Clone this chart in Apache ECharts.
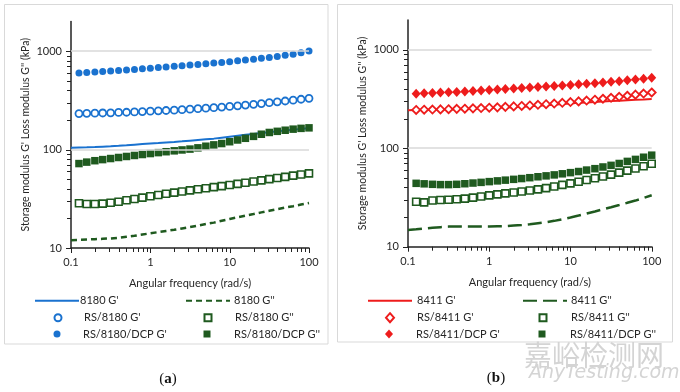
<!DOCTYPE html>
<html>
<head>
<meta charset="utf-8">
<script src="https://cdn.jsdelivr.net/npm/echarts@6/dist/echarts.min.js"></script>
<style>
html,body{margin:0;padding:0;background:#fff;}
#c{width:680px;height:392px;}
</style>
</head>
<body>
<div id="c"></div>
<script>
// ---------- data ----------
const freqLine = [0.1,0.126,0.158,0.2,0.251,0.316,0.398,0.501,0.631,0.794,1,1.26,1.58,2,2.51,3.16,3.98,5.01,6.31,7.94,10,12.6,15.8,20,25.1,31.6,39.8,50.1,63.1,79.4,100];
const freqPts = [0.126,0.158,0.2,0.251,0.316,0.398,0.501,0.631,0.794,1,1.26,1.58,2,2.51,3.16,3.98,5.01,6.31,7.94,10,12.6,15.8,20,25.1,31.6,39.8,50.1,63.1,79.4,100];
const xRange = [0.1, 100];
const yRange = [10, 2000];
const xMajorTicks = [0.1,1,10,100];
const xMinorTicks = [0.2,0.3,0.4,0.5,0.6,0.7,0.8,0.9,2,3,4,5,6,7,8,9,20,30,40,50,60,70,80,90];
const yMajorTicks = [10,100,1000];
const yMinorTicks = [20,30,40,50,60,70,80,90,200,300,400,500,600,700,800,900];
const gridValues = [100,1000];

// panel (a)
const namesA = ["8180 G'", "8180 G''", "RS/8180 G'", "RS/8180 G''", "RS/8180/DCP G'", "RS/8180/DCP G''"];
const a8180Gp = [104,104.6,105.2,106,107,108,109.2,110.5,112,113.5,115,116.5,118,119.5,121,123,125,127,129,132,135,138,141,144,147,150,153,156,159,162,165];
const a8180Gpp = [12.0,12.1,12.2,12.3,12.4,12.5,12.7,13.0,13.3,13.7,14.1,14.5,14.9,15.3,15.8,16.3,16.9,17.5,18.1,18.9,19.7,20.5,21.3,22.1,23.0,23.9,24.8,25.7,26.6,27.6,28.6];
const aRSGp = [232,233,234,235,236,238,239,241,243,245,247,249,251,254,257,260,263,266,270,274,278,283,288,293,299,305,311,317,324,331];
const aRSGpp = [28.5,28,28,28.2,28.8,29.5,30.5,31.5,32.5,33.5,34.5,35.5,36.5,37.5,38.5,39.5,40.5,41.5,42.5,43.6,44.8,46,47.3,48.6,50,51.4,52.8,54.3,55.8,57.3];
const aDCPGp = [600,607,614,621,628,635,642,650,660,670,680,690,700,710,720,730,742,754,767,780,795,810,826,843,862,882,905,930,960,1000];
const aDCPGpp = [72,74.5,77,79,81,83,85,87,89,91,93,95,97,99,101,104,108,111.5,115,120,125,130,136,143,149,153,157,161,164,166];

// panel (b)
const namesB = ["8411 G'", "8411 G''", "RS/8411 G'", "RS/8411 G''", "RS/8411/DCP G'", "RS/8411/DCP G''"];
const b8411Gp = [243,244,245,246,247,248,249,250.5,252,253.5,255,257,259,261,264,267,270,273,277,281,285,289,292,295,298,301,304,307,310,313,317];
const b8411Gpp = [14.8,15.0,15.3,15.6,15.8,16.0,16.0,16.0,16.0,16.0,16.0,16.1,16.2,16.4,16.6,16.9,17.3,17.7,18.3,19.0,19.8,20.7,21.7,22.8,24.0,25.2,26.5,27.9,29.4,31.2,33.3];
const bRSGp = [245,246,247,248,249,251,252,254,256,258,260,263,266,269,272,276,280,284,289,294,299,305,311,318,325,333,341,350,359,368];
const bRSGpp = [28.6,28.2,29.5,29.8,30,30.3,30.8,31.5,32.3,33.2,34,34.8,35.5,36.3,37.2,38.2,39.3,40.8,42.4,44,45.7,47.5,49.5,51.7,54,56.5,59.2,62.2,65.5,69.5];
const bDCPGp = [358,361,364,367,370,373,377,381,386,391,395,400,404,409,413,418,423,428,433,439,445,451,458,465,472,480,489,498,509,520];
const bDCPGpp = [44,43.5,43,42.7,42.7,43,43.6,44.3,45,45.8,46.6,47.4,48.3,49.2,50.2,51.3,52.4,53.6,55,56.5,58,60,62,64.5,67,70,73.5,77,81,85];

const xTitle = "Angular frequency (rad/s)";
const yTitle = "Storage modulus G' Loss modulus G'' (kPa)";
const panelLabels = ["a", "b"];

// ---------- styles ----------
const BLUE = '#1a72cf', GREEN = '#1f5a1f', RED = '#ee1c1c';
const FONT = 'Lato';
const TXT = '#262626';
const AX = '#222';

const pairs = (xs, ys) => xs.map((x, i) => [x, ys[i]]);

const grids = [
  {left: 71, top: 21.4, width: 238, height: 226.6},
  {left: 408, top: 20.1, width: 243.7, height: 226.6}
];

const xAxes = [], yAxes = [];
grids.forEach((g, gi) => {
  xAxes.push({
    type: 'log', logBase: 10, min: xRange[0], max: xRange[1], gridIndex: gi, position: 'bottom',
    axisLine: {show: true, lineStyle: {color: AX, width: 1.5}},
    axisTick: {show: false},
    axisLabel: {customValues: xMajorTicks, formatter: v => String(v), color: TXT, fontFamily: FONT, fontSize: 11, margin: 9},
    splitLine: {show: false},
    name: xTitle, nameLocation: 'middle', nameGap: 30,
    nameTextStyle: {color: TXT, fontFamily: FONT, fontSize: 11}
  });
  yAxes.push({
    type: 'log', logBase: 10, min: yRange[0], max: yRange[1], gridIndex: gi, position: 'left',
    axisLine: {show: true, lineStyle: {color: AX, width: 1.5}},
    axisTick: {show: false},
    axisLabel: {customValues: yMajorTicks, formatter: v => String(v), color: TXT, fontFamily: FONT, fontSize: 11, margin: 9},
    splitLine: {show: false},
    name: yTitle, nameLocation: 'middle', nameGap: 40, nameRotate: 90,
    nameTextStyle: {color: TXT, fontFamily: FONT, fontSize: 10.5}
  });
});

// tick marks: custom series, each item = [x value, y value, dx px, dy px]
function tickSeries(gi) {
  const data = []
    .concat(xMajorTicks.map(v => [v, yRange[0], 0, 5]))
    .concat(xMinorTicks.map(v => [v, yRange[0], 0, 4]))
    .concat(yMajorTicks.map(v => [xRange[0], v, -5, 0]))
    .concat(yMinorTicks.map(v => [xRange[0], v, -4, 0]));
  return [{
    type: 'custom', xAxisIndex: gi, yAxisIndex: gi, silent: true, clip: false, z: 5,
    encode: {x: 0, y: 1},
    data: data,
    renderItem: function (params, api) {
      const p = api.coord([api.value(0), api.value(1)]);
      const dx = api.value(2), dy = api.value(3);
      const x = dx === 0 ? Math.round(p[0]) + 0.5 : p[0];
      const y = dy === 0 ? Math.round(p[1]) + 0.5 : p[1];
      return {type: 'line', shape: {x1: x, y1: y, x2: x + dx, y2: y + dy},
        style: {stroke: AX, lineWidth: 1}};
    }
  }];
}

function panelSeries(gi, names, lineGp, lineGpp, rsGp, rsGpp, dcpGp, dcpGpp, gColor, dash, gpSymbol, rsSize, dcpSize) {
  const xi = gi, yi = gi;
  return [
    {type: 'line', xAxisIndex: xi, yAxisIndex: yi, data: [], silent: true, z: 1,
     markLine: {silent: true, symbol: 'none', label: {show: false}, animation: false,
       lineStyle: {color: '#d9d9d9', width: 1.5, type: 'solid'},
       data: gridValues.map(v => ({yAxis: v}))}},
    {name: names[0], type: 'line', xAxisIndex: xi, yAxisIndex: yi, data: pairs(freqLine, lineGp),
     symbol: 'none', z: 2,
     lineStyle: {color: gColor, width: 2}, itemStyle: {color: gColor}},
    {name: names[1], type: 'line', xAxisIndex: xi, yAxisIndex: yi, data: pairs(freqLine, lineGpp),
     symbol: 'none', z: 2,
     lineStyle: {color: GREEN, width: 2.5, type: dash}, itemStyle: {color: GREEN}},
    {name: names[2], type: 'scatter', xAxisIndex: xi, yAxisIndex: yi, data: pairs(freqPts, rsGp),
     symbol: gpSymbol, symbolSize: rsSize, z: 3,
     itemStyle: {color: '#fff', borderColor: gColor, borderWidth: 1.8, opacity: 1}},
    {name: names[3], type: 'scatter', xAxisIndex: xi, yAxisIndex: yi, data: pairs(freqPts, rsGpp),
     symbol: 'rect', symbolSize: 7, z: 3,
     itemStyle: {color: '#fff', borderColor: GREEN, borderWidth: 1.6, opacity: 1}},
    {name: names[4], type: 'scatter', xAxisIndex: xi, yAxisIndex: yi, data: pairs(freqPts, dcpGp),
     symbol: gpSymbol, symbolSize: dcpSize, z: 3,
     itemStyle: {color: gColor, opacity: 1}},
    {name: names[5], type: 'scatter', xAxisIndex: xi, yAxisIndex: yi, data: pairs(freqPts, dcpGpp),
     symbol: 'rect', symbolSize: 7.5, z: 3,
     itemStyle: {color: GREEN, opacity: 1}}
  ].concat(tickSeries(gi));
}

const series = [].concat(
  panelSeries(0, namesA, a8180Gp, a8180Gpp, aRSGp, aRSGpp, aDCPGp, aDCPGpp, BLUE, [6, 4], 'circle', 7, 7),
  panelSeries(1, namesB, b8411Gp, b8411Gpp, bRSGp, bRSGpp, bDCPGp, bDCPGpp, RED, [14, 6], 'diamond', 8, [9, 10])
);

// legend placement: lines [icon left, centerY]; markers [icon center, centerY]
const legendPos = [
  [[34, 300.7], [185, 300.7], [57, 317.7], [207, 317.7], [57, 334], [207, 334]],
  [[367, 300.7], [522, 300.7], [389, 317.7], [542, 317.7], [389, 334], [542, 334]]
];
const legendTextX = [[79, 233, 83, 234, 83, 234], [416, 570, 416, 570, 416, 570]];
const legends = [];
[namesA, namesB].forEach((names, pi) => {
  names.forEach((n, i) => {
    const isLine = i < 2;
    const isDia = pi === 1 && (i === 2 || i === 4);
    const iw = isLine ? 44 : (isDia ? 8 : 7);
    const ih = isLine ? 14 : (isDia ? 9 : 7);
    const left = isLine ? legendPos[pi][i][0] : legendPos[pi][i][0] - iw / 2;
    const textPad = legendTextX[pi][i] - (left + iw + 5);
    const lg = {
      data: [n], left: left, top: legendPos[pi][i][1] - 7,
      orient: 'horizontal', selectedMode: false, padding: 0,
      itemWidth: iw, itemHeight: ih,
      textStyle: {color: TXT, fontFamily: FONT, fontSize: 11, lineHeight: 14, padding: [0, 0, 0, textPad]}
    };
    if (isLine) lg.itemStyle = {opacity: 0};
    legends.push(lg);
  });
});

const graphics = [
  {type: 'rect', shape: {x: 4.5, y: 4.5, width: 323.5, height: 339.5}, style: {fill: 'none', stroke: '#d9d9d9', lineWidth: 1}, silent: true, z: -1},
  {type: 'rect', shape: {x: 337.5, y: 4.5, width: 335, height: 337.5}, style: {fill: 'none', stroke: '#d9d9d9', lineWidth: 1}, silent: true, z: -1},
  {type: 'text', left: 524, top: 341, style: {text: '嘉峪检测网', fill: '#d4d4d4', font: '28px "Noto Sans CJK SC"'}, silent: true, z: -1},
  {type: 'text', left: 529, top: 364, style: {text: 'AnyTesting.com', fill: '#d4d4d4', font: 'italic 19px "DejaVu Sans"'}, silent: true, z: -1}
];
[[168, 379], [496, 378]].forEach((p, i) => {
  graphics.push({type: 'text', x: p[0], y: p[1],
    style: {text: '(' + '{b|' + panelLabels[i] + '})', fill: '#111', font: '15px "Liberation Serif"',
      align: 'center', verticalAlign: 'middle',
      rich: {b: {fontWeight: 'bold', fontFamily: 'Liberation Serif', fontSize: 15, fill: '#111'}}},
    silent: true});
});

const chart = echarts.init(document.getElementById('c'), null, {renderer: 'canvas'});
chart.setOption({
  animation: false,
  backgroundColor: '#fff',
  grid: grids,
  xAxis: xAxes,
  yAxis: yAxes,
  legend: legends,
  series: series,
  graphic: graphics
});
</script>
</body>
</html>
